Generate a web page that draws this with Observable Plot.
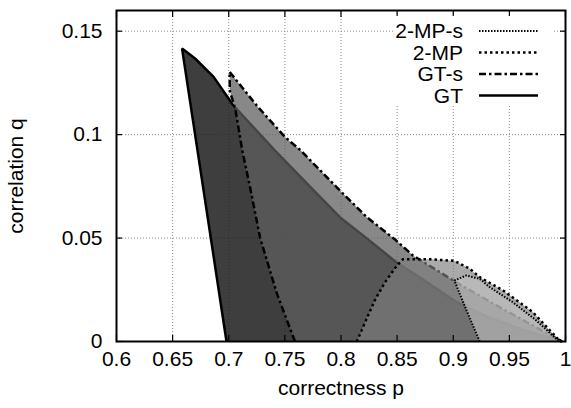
<!DOCTYPE html>
<html><head><meta charset="utf-8">
<script src="https://cdn.jsdelivr.net/npm/d3@7"></script>
<script src="https://cdn.jsdelivr.net/npm/@observablehq/plot@0.6"></script>
<style>body{margin:0;background:#fff}</style>
</head><body><div id="chart"></div>
<script>
// ---- data ----
const xTicks = [0.6, 0.65, 0.7, 0.75, 0.8, 0.85, 0.9, 0.95, 1];
const xTickLabels = ["0.6", "0.65", "0.7", "0.75", "0.8", "0.85", "0.9", "0.95", "1"];
const yTicks = [0, 0.05, 0.1, 0.15];
const yTickLabels = ["0", "0.05", "0.1", "0.15"];
const xLabel = "correctness p";
const yLabel = "correlation q";
const seriesNames = ["GT", "GT-s", "2-MP", "2-MP-s"];

const gtP = [0.698, 0.6584, 0.670, 0.6865, 0.704, 0.719, 0.741, 0.770, 0.799, 0.825, 0.849, 0.875, 0.903, 0.930, 0.960, 0.988, 0.997];
const gtQ = [0, 0.1416, 0.1368, 0.1279, 0.1142, 0.1053, 0.0924, 0.0762, 0.0601, 0.0490, 0.0384, 0.0292, 0.0190, 0.0120, 0.0060, 0.0015, 0];

const gtsP = [0.759, 0.743, 0.728, 0.719, 0.712, 0.706, 0.701, 0.7007, 0.725, 0.750, 0.764, 0.799, 0.823, 0.849, 0.864, 0.903, 0.940, 0.970, 0.997];
const gtsQ = [0, 0.023, 0.050, 0.0745, 0.0924, 0.112, 0.121, 0.1304, 0.114, 0.0989, 0.0924, 0.073, 0.0601, 0.0489, 0.0416, 0.0285, 0.017, 0.008, 0];

const mpP = [0.814, 0.821, 0.830, 0.839, 0.850, 0.855, 0.880, 0.901, 0.9147, 0.9236, 0.9443, 0.9709, 0.9931, 0.996];
const mpQ = [0, 0.0087, 0.0198, 0.0285, 0.0368, 0.0397, 0.0397, 0.0390, 0.0352, 0.0311, 0.0247, 0.0142, 0.0013, 0];

const mpsP = [0.9236, 0.912, 0.901, 0.9116, 0.9236, 0.9324, 0.953, 0.9739, 0.9917, 0.995];
const mpsQ = [0, 0.0148, 0.0295, 0.0319, 0.0303, 0.0263, 0.019, 0.0102, 0.0013, 0];

// ---- build ----
const FONT = "'Liberation Sans', Arial, sans-serif";
const pts = (P, Q) => P.map((p, i) => ({p, q: Q[i]}));
const styles = {
  "GT":     {fill: "#1c1c1c", op: 0.85, dash: null,        sw: 2.5},
  "GT-s":   {fill: "#5e5e5e", op: 0.74, dash: "7,3,2.5,3", sw: 2.5},
  "2-MP":   {fill: "#7e7e7e", op: 0.66, dash: "2.5,3",     sw: 2.5},
  "2-MP-s": {fill: "#c2c2c2", op: 0.6,  dash: "1.5,1.5",   sw: 2}
};
const seriesData = {
  "GT": pts(gtP, gtQ), "GT-s": pts(gtsP, gtsQ), "2-MP": pts(mpP, mpQ), "2-MP-s": pts(mpsP, mpsQ)
};

const gridStyle = {stroke: "#8a8a8a", strokeOpacity: 1, strokeDasharray: "1,2"};
const marks = [
  Plot.gridX(xTicks.slice(1, -1), gridStyle),
  Plot.gridY(yTicks.slice(1), gridStyle)
];
for (const name of seriesNames) {
  const s = styles[name];
  marks.push(Plot.line(seriesData[name], {x: "p", y: "q", fill: s.fill, fillOpacity: s.op, stroke: "none"}));
  marks.push(Plot.line(seriesData[name], {x: "p", y: "q", stroke: "black", strokeWidth: s.sw,
    strokeDasharray: s.dash, strokeLinecap: "butt", strokeLinejoin: "miter"}));
}
const noText = () => "";
marks.push(
  // inward tick marks on all four sides
  Plot.axisX(xTicks, {anchor: "bottom", tickSize: 6, dy: -6, strokeWidth: 1.2, tickFormat: noText, label: null}),
  Plot.axisX(xTicks, {anchor: "top", tickSize: 6, dy: 6, strokeWidth: 1.2, tickFormat: noText, label: null}),
  Plot.axisY(yTicks, {anchor: "left", tickSize: 6, dx: 6, strokeWidth: 1.2, tickFormat: noText, label: null}),
  Plot.axisY(yTicks, {anchor: "right", tickSize: 6, dx: -6, strokeWidth: 1.2, tickFormat: noText, label: null}),
  // tick labels
  Plot.axisX(xTicks, {anchor: "bottom", tickSize: 0, tickPadding: 10,
    tickFormat: d => xTickLabels[xTicks.indexOf(d)], label: null, fill: "black"}),
  Plot.axisY(yTicks, {anchor: "left", tickSize: 0, tickPadding: 14,
    tickFormat: d => yTickLabels[yTicks.indexOf(d)], label: null, fill: "black"}),
  Plot.frame({stroke: "black", strokeWidth: 2}),
  Plot.text([xLabel], {frameAnchor: "bottom", dy: 47, text: d => d, fill: "black",
    textAnchor: "middle", lineAnchor: "middle"}),
  Plot.text([yLabel], {frameAnchor: "left", dx: -100.5, rotate: -90, text: d => d, fill: "black",
    textAnchor: "middle", lineAnchor: "middle"})
);

const chart = Plot.plot({
  width: 571, height: 408,
  marginLeft: 116, marginRight: 6, marginTop: 10, marginBottom: 67,
  style: {fontFamily: FONT, fontSize: "21px", background: "white", color: "black"},
  x: {domain: [0.6, 1], axis: null},
  y: {domain: [0, 0.16], axis: null},
  marks
});
document.getElementById("chart").appendChild(chart);

// ---- legend (top-right, white box) ----
const svg = d3.select(chart);
const lg = svg.append("g");
lg.append("rect").attr("x", 395).attr("y", 16).attr("width", 157).attr("height", 90).attr("fill", "white");
const legendOrder = seriesNames.slice().reverse();
legendOrder.forEach((name, i) => {
  const s = styles[name];
  const y = 31 + i * 21.5;
  lg.append("text").attr("x", 463).attr("y", y).attr("dy", "0.35em").attr("text-anchor", "end")
    .attr("font-family", FONT).attr("font-size", 21).attr("fill", "black").text(name);
  lg.append("line").attr("x1", 479).attr("x2", 538).attr("y1", y).attr("y2", y)
    .attr("stroke", "black").attr("stroke-width", s.sw).attr("stroke-dasharray", s.dash);
});
</script>
</body></html>
